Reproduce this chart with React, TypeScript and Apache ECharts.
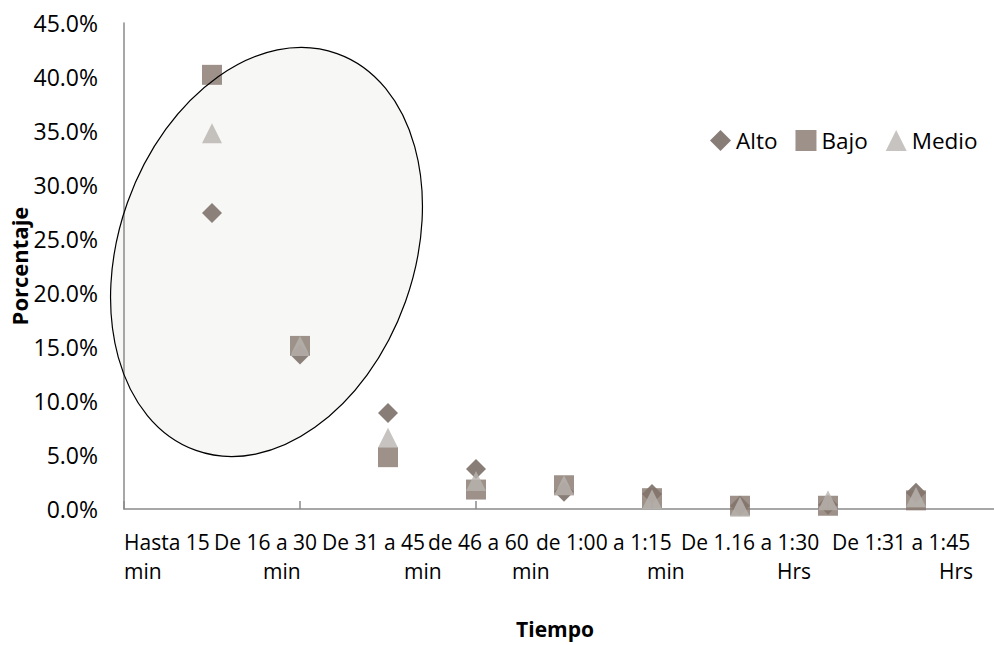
import React, { useEffect, useRef } from "react";
import * as echarts from "echarts";

// x positions of the nine time groups
const xPositions = [1, 2, 3, 4, 5, 6, 7, 8, 9];
// percentages per level
const alto = [27.4, 14.3, 8.9, 3.7, 1.6, 1.4, 0.3, 0.4, 1.5];
const bajo = [40.2, 15.1, 4.8, 1.8, 2.2, 1.0, 0.3, 0.3, 0.8];
const medio = [34.8, 15.1, 6.6, 2.6, 2.2, 0.9, 0.2, 0.8, 1.1];

const seriesNames = ["Alto", "Bajo", "Medio"];

// category text below the axis (two lines)
const timeLabelsTop = [
  "Hasta 15",
  "De 16 a 30",
  "De 31 a 45",
  "de 46 a 60",
  "de 1:00 a 1:15",
  "De 1.16 a 1:30",
  "De 1:31 a 1:45",
];
const timeLabelsBottom = ["min", "min", "min", "min", "min", "Hrs", "Hrs"];

// layout (pixel) for the free-floating label text
const labelTopLeft = [124, 214, 322, 428, 536, 681, 832];
const labelBottomLeft = [124, 263, 404, 512, 647, 777, 939];

const FONT = "'Open Sans', 'Noto Sans', sans-serif";

export default function App() {
  const ref = useRef<HTMLDivElement>(null);

  useEffect(() => {
    if (!ref.current) return;
    const chart = echarts.init(ref.current, undefined, { renderer: "svg" });

    const pair = (arr: number[]) => arr.map((v, i) => [xPositions[i], v]);

    const labelTexts: any[] = [];
    timeLabelsTop.forEach((t, i) => {
      labelTexts.push({
        type: "text",
        x: labelTopLeft[i],
        y: 542,
        style: {
          text: t,
          font: `21px ${FONT}`,
          fill: "#000",
          textAlign: "left",
          textVerticalAlign: "middle",
        },
      });
    });
    timeLabelsBottom.forEach((t, i) => {
      labelTexts.push({
        type: "text",
        x: labelBottomLeft[i],
        y: 571,
        style: {
          text: t,
          font: `21px ${FONT}`,
          fill: "#000",
          textAlign: "left",
          textVerticalAlign: "middle",
        },
      });
    });

    chart.setOption({
      animation: false,
      backgroundColor: "#fff",
      textStyle: { fontFamily: FONT },
      grid: {
        left: 124,
        top: 23,
        width: 880,
        height: 486,
        containLabel: false,
        outerBoundsMode: "none",
      },
      legend: {
        data: seriesNames,
        left: 710,
        top: 129,
        padding: 0,
        itemWidth: 21,
        itemHeight: 21,
        itemGap: 18,
        textStyle: { fontSize: 22.5, color: "#000", fontFamily: FONT },
      },
      xAxis: {
        type: "value",
        min: 0,
        max: 10,
        interval: 2,
        name: "Tiempo",
        nameLocation: "middle",
        nameGap: 109,
        nameMoveOverlap: false,
        nameTextStyle: {
          fontSize: 21,
          fontWeight: "bold",
          color: "#000",
          fontFamily: FONT,
          padding: [0, 18, 0, 0],
        },
        axisLine: { show: true, lineStyle: { color: "#8a8a8a", width: 1.5 } },
        axisTick: { show: true, inside: true, length: 8, lineStyle: { color: "#8a8a8a", width: 1.5 } },
        axisLabel: { show: false },
        splitLine: { show: false },
      },
      yAxis: {
        type: "value",
        min: 0,
        max: 45,
        interval: 5,
        name: "Porcentaje",
        nameLocation: "middle",
        nameRotate: 90,
        nameGap: 94,
        nameMoveOverlap: false,
        nameTextStyle: {
          fontSize: 22,
          fontWeight: "bold",
          color: "#000",
          fontFamily: FONT,
        },
        axisLine: { show: true, lineStyle: { color: "#8a8a8a", width: 1.5 } },
        axisTick: { show: false },
        axisLabel: {
          margin: 26,
          fontSize: 23,
          color: "#000",
          fontFamily: FONT,
          formatter: (v: number) => v.toFixed(1) + "%",
        },
        splitLine: { show: false },
      },
      series: [
        {
          name: "Alto",
          type: "scatter",
          symbol: "diamond",
          symbolSize: 20,
          itemStyle: { color: "#6b5e55" },
          data: pair(alto),
        },
        {
          name: "Bajo",
          type: "scatter",
          symbol: "rect",
          symbolSize: 20,
          itemStyle: { color: "#85766c" },
          data: pair(bajo),
        },
        {
          name: "Medio",
          type: "scatter",
          symbol: "triangle",
          symbolSize: 20,
          itemStyle: { color: "#b9b4b0" },
          data: pair(medio),
        },
      ],
      graphic: [
        {
          type: "ellipse",
          x: 266.5,
          y: 252,
          rotation: -0.342,
          z: 100,
          shape: { cx: 0, cy: 0, rx: 147.6, ry: 210.6 },
          style: { fill: "rgba(170,170,150,0.09)", stroke: "#000", lineWidth: 1.2 },
          silent: true,
        },
        ...labelTexts,
      ],
    });

    return () => chart.dispose();
  }, []);

  return (
    <div
      ref={ref}
      style={{ position: "absolute", left: 0, top: 0, width: 994, height: 645 }}
    />
  );
}
